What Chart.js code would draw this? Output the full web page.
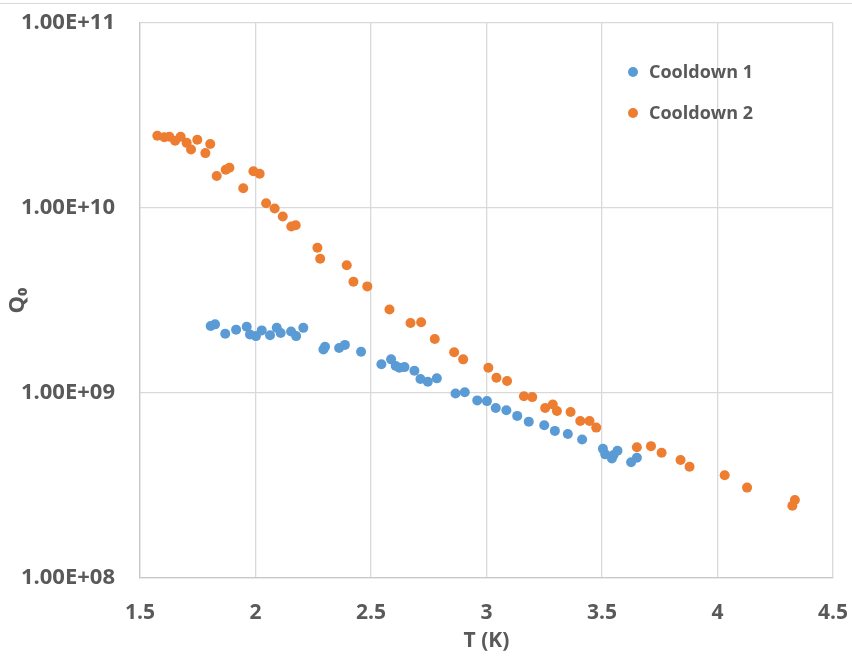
<!DOCTYPE html>
<html>
<head>
<meta charset="utf-8">
<script src="https://cdn.jsdelivr.net/npm/chart.js@4.4.1/dist/chart.umd.min.js"></script>
<style>
  html, body { margin: 0; padding: 0; background: #fff; }
  #wrap { position: relative; width: 852px; height: 656px; }
</style>
</head>
<body>
<div id="wrap"><canvas id="qChart" width="852" height="656"></canvas></div>
<script>
// Cooldown 1 (blue)
const tCool1 = [1.806, 1.825, 1.869, 1.916, 1.962, 1.976, 2.002, 2.027, 2.063, 2.092, 2.109, 2.154, 2.176, 2.207,
    2.294, 2.301, 2.362, 2.387, 2.457, 2.545, 2.587, 2.607, 2.623, 2.645, 2.688, 2.714, 2.746, 2.785,
    2.866, 2.906, 2.960, 3.002, 3.040, 3.086, 3.133, 3.183, 3.250, 3.296, 3.352, 3.414,
    3.504, 3.514, 3.543, 3.550, 3.567, 3.626, 3.651];
const qCool1 = [2.30e9, 2.35e9, 2.09e9, 2.20e9, 2.28e9, 2.07e9, 2.03e9, 2.18e9, 2.05e9, 2.25e9, 2.11e9, 2.15e9, 2.03e9, 2.25e9,
    1.72e9, 1.78e9, 1.75e9, 1.82e9, 1.67e9, 1.43e9, 1.52e9, 1.40e9, 1.37e9, 1.38e9, 1.32e9, 1.19e9, 1.15e9, 1.20e9,
    9.93e8, 1.01e9, 9.12e8, 9.04e8, 8.30e8, 8.07e8, 7.52e8, 7.00e8, 6.70e8, 6.24e8, 6.00e8, 5.61e8,
    4.99e8, 4.66e8, 4.43e8, 4.62e8, 4.87e8, 4.22e8, 4.47e8];

// Cooldown 2 (orange)
const tCool2 = [1.575, 1.605, 1.627, 1.652, 1.676, 1.702, 1.721, 1.748, 1.783, 1.804, 1.832, 1.871, 1.887, 1.947,
    1.991, 2.018, 2.046, 2.083, 2.118, 2.155, 2.174, 2.268, 2.280, 2.395, 2.424, 2.484, 2.580, 2.671, 2.717,
    2.776, 2.860, 2.899, 3.008, 3.043, 3.089, 3.162, 3.198, 3.254, 3.287, 3.305, 3.364, 3.406, 3.446, 3.475,
    3.651, 3.712, 3.758, 3.840, 3.879, 4.031, 4.128, 4.324, 4.335];
const qCool2 = [2.46e10, 2.41e10, 2.43e10, 2.31e10, 2.43e10, 2.25e10, 2.07e10, 2.34e10, 1.98e10, 2.22e10, 1.49e10, 1.61e10, 1.65e10, 1.28e10,
    1.58e10, 1.53e10, 1.06e10, 9.94e9, 9.00e9, 7.95e9, 8.07e9, 6.10e9, 5.32e9, 4.90e9, 3.99e9, 3.77e9, 2.83e9, 2.39e9, 2.41e9,
    1.96e9, 1.66e9, 1.52e9, 1.37e9, 1.21e9, 1.16e9, 9.60e8, 9.50e8, 8.30e8, 8.67e8, 8.00e8, 7.90e8, 7.05e8, 7.05e8, 6.50e8,
    5.09e8, 5.16e8, 4.75e8, 4.34e8, 3.99e8, 3.59e8, 3.08e8, 2.46e8, 2.64e8];

const seriesNames = ['Cooldown 1', 'Cooldown 2'];
const yTickValues = [1e8, 1e9, 1e10, 1e11];

const BLUE = '#5B9BD5';
const ORANGE = '#ED7D31';
const TEXT = '#595959';
const GRID = '#d9d9d9';
const FONT = "'Open Sans', 'Liberation Sans', sans-serif";

function toPoints(xs, ys) {
    return xs.map((x, i) => ({ x: x, y: ys[i] }));
}

// legend drawn inside the plot area, plus the thin frame line at the top
const insideLegend = {
    id: 'insideLegend',
    beforeDraw(chart) {
        const ctx = chart.ctx;
        ctx.save();
        ctx.strokeStyle = GRID;
        ctx.lineWidth = 1;
        ctx.beginPath();
        ctx.moveTo(0, 3.5);
        ctx.lineTo(chart.width, 3.5);
        ctx.stroke();
        ctx.restore();
    },
    afterDraw(chart) {
        const ctx = chart.ctx;
        const area = chart.chartArea;
        const x0 = area.right - 200;
        const rows = [area.top + 49, area.top + 90];
        ctx.save();
        ctx.font = 'bold 18px ' + FONT;
        ctx.textBaseline = 'middle';
        chart.data.datasets.forEach((ds, i) => {
            ctx.fillStyle = ds.backgroundColor;
            ctx.beginPath();
            ctx.arc(x0, rows[i], 5, 0, Math.PI * 2);
            ctx.fill();
            ctx.fillStyle = TEXT;
            ctx.fillText(ds.label, x0 + 16, rows[i] + 1);
        });
        ctx.restore();
    }
};

const ctx = document.getElementById('qChart').getContext('2d');
new Chart(ctx, {
    type: 'scatter',
    data: {
        datasets: [{
            label: seriesNames[0],
            data: toPoints(tCool1, qCool1),
            backgroundColor: BLUE,
            borderColor: BLUE,
            pointRadius: 5,
            borderWidth: 0
        }, {
            label: seriesNames[1],
            data: toPoints(tCool2, qCool2),
            backgroundColor: ORANGE,
            borderColor: ORANGE,
            pointRadius: 5,
            borderWidth: 0
        }]
    },
    options: {
        responsive: false,
        animation: false,
        layout: { autoPadding: false, padding: { top: 23, right: 19, bottom: 0, left: 0 } },
        plugins: {
            legend: { display: false },
            tooltip: { enabled: false }
        },
        scales: {
            x: {
                type: 'linear',
                min: 1.5,
                max: 4.5,
                ticks: {
                    stepSize: 0.5,
                    padding: 22,
                    color: TEXT,
                    font: { family: FONT, size: 21, weight: 'bold' },
                    callback(value) { return String(value); }
                },
                grid: { color: GRID, lineWidth: 1.3, drawTicks: false },
                border: { color: '#c8c8c8', width: 1.3 },
                title: {
                    display: true,
                    text: 'T (K)',
                    color: TEXT,
                    padding: { top: 0, bottom: 2 },
                    font: { family: FONT, size: 21, weight: 'bold' }
                },
                afterFit(scale) {
                    scale.height = 78;
                    // labels overflow into the page margin, do not shrink the plot for them
                    scale.paddingLeft = 0;
                    scale.paddingRight = 0;
                }
            },
            y: {
                type: 'logarithmic',
                min: 1e8,
                max: 1e11,
                afterBuildTicks(scale) {
                    scale.ticks = yTickValues.map(v => ({ value: v }));
                },
                ticks: {
                    padding: 25,
                    color: TEXT,
                    font: { family: FONT, size: 22, weight: 'bold' },
                    callback(value) {
                        const exp = Math.round(Math.log10(value));
                        return '1.00E+' + String(exp).padStart(2, '0');
                    }
                },
                grid: { color: GRID, lineWidth: 1.3, drawTicks: false },
                border: { color: '#c8c8c8', width: 1.3 },
                title: {
                    display: true,
                    text: 'Q\u2080',
                    color: TEXT,
                    padding: { top: 5, bottom: 0 },
                    font: { family: FONT, size: 22, weight: 'bold' }
                },
                afterFit(scale) {
                    scale.width = 140;
                    scale.paddingTop = 0;
                    scale.paddingBottom = 0;
                }
            }
        }
    },
    plugins: [insideLegend]
});
</script>
</body>
</html>
